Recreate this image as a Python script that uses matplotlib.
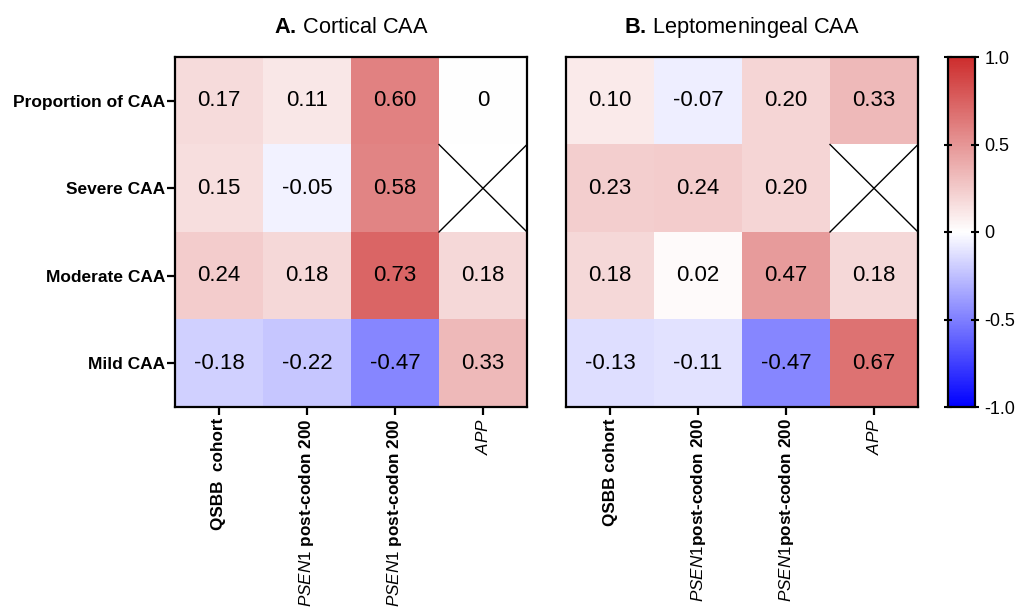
import numpy as np
import matplotlib
matplotlib.use("Agg")
import matplotlib.pyplot as plt
from matplotlib.colors import LinearSegmentedColormap

plt.rcParams['font.family'] = 'Liberation Sans'
plt.rcParams['mathtext.fontset'] = 'custom'
plt.rcParams['mathtext.rm'] = 'Liberation Sans'
plt.rcParams['mathtext.it'] = 'Liberation Sans:italic'
plt.rcParams['mathtext.bf'] = 'Liberation Sans:bold'

rows = ['Proportion of CAA', 'Severe CAA', 'Moderate CAA', 'Mild CAA']
cols_a = ['QSBB  cohort', r'$\mathit{PSEN1}$ post-codon 200',
          r'$\mathit{PSEN1}$ post-codon 200', r'$\mathit{APP}$']
cols_b = ['QSBB cohort', r'$\mathit{PSEN1}$post-codon 200',
          r'$\mathit{PSEN1}$post-codon 200', r'$\mathit{APP}$']

cortical = np.array([
    [0.17, 0.11, 0.60, 0.0],
    [0.15, -0.05, 0.58, np.nan],
    [0.24, 0.18, 0.73, 0.18],
    [-0.18, -0.22, -0.47, 0.33],
])
lepto = np.array([
    [0.10, -0.07, 0.20, 0.33],
    [0.23, 0.24, 0.20, np.nan],
    [0.18, 0.02, 0.47, 0.18],
    [-0.13, -0.11, -0.47, 0.67],
])

cmap = LinearSegmentedColormap.from_list('bwr2', ['#0000FF', '#FFFFFF', '#CD2D2D'])
cmap.set_bad('white')

W, H = 1027, 609
fig = plt.figure(figsize=(W / 100, H / 100), dpi=100)


def box(x0, y0, x1, y1):
    return [x0 / W, 1 - y1 / H, (x1 - x0) / W, (y1 - y0) / H]


def heat(ax, data, xlabels, title, show_y):
    im = ax.imshow(data, cmap=cmap, vmin=-1, vmax=1, aspect='auto')
    for r in range(data.shape[0]):
        for c in range(data.shape[1]):
            v = data[r, c]
            if np.isnan(v):
                continue
            s = '0' if v == 0 else f'{v:.2f}'
            ax.text(c, r, s, ha='center', va='center', fontsize=16, color='black')
    # crossed-out cells where no value exists
    for r, c in np.argwhere(np.isnan(data)):
        ax.plot([c - 0.5, c + 0.5], [r - 0.5, r + 0.5], color='black', lw=1)
        ax.plot([c - 0.5, c + 0.5], [r + 0.5, r - 0.5], color='black', lw=1)
    ax.set_xlim(-0.5, data.shape[1] - 0.5)
    ax.set_ylim(data.shape[0] - 0.5, -0.5)
    ax.set_xticks(range(data.shape[1]))
    ax.set_xticklabels(xlabels, rotation=90, fontsize=12.3, fontweight='bold')
    ax.set_yticks(range(data.shape[0]))
    if show_y:
        ax.set_yticklabels(rows, fontsize=12.5, fontweight='bold')
        ax.tick_params(axis='y', length=6, width=1.6, pad=1)
    else:
        ax.tick_params(axis='y', left=False, labelleft=False)
    ax.tick_params(axis='x', length=6, width=1.6, pad=2)
    for sp in ax.spines.values():
        sp.set_linewidth(1.6)
    ax.set_title(title, fontsize=15.7, pad=17)
    return im


ax_a = fig.add_axes(box(175, 57, 527, 407))
ax_b = fig.add_axes(box(566, 57, 918, 407))
im = heat(ax_a, cortical, cols_a, r'$\mathbf{A.}\,$Cortical CAA', True)
heat(ax_b, lepto, cols_b, r'$\mathbf{B.}\,$Leptomeningeal CAA', False)

cax = fig.add_axes(box(948, 57, 975, 407))
cb = fig.colorbar(im, cax=cax, ticks=[-1, -0.5, 0, 0.5, 1])
cb.ax.set_yticklabels(['-1.0', '-0.5', '0', '0.5', '1.0'], fontsize=13)
cb.ax.tick_params(direction='inout', length=6, width=1.5, left=True, pad=4)
cb.outline.set_linewidth(1.6)

fig.savefig('out.png', dpi=100)
